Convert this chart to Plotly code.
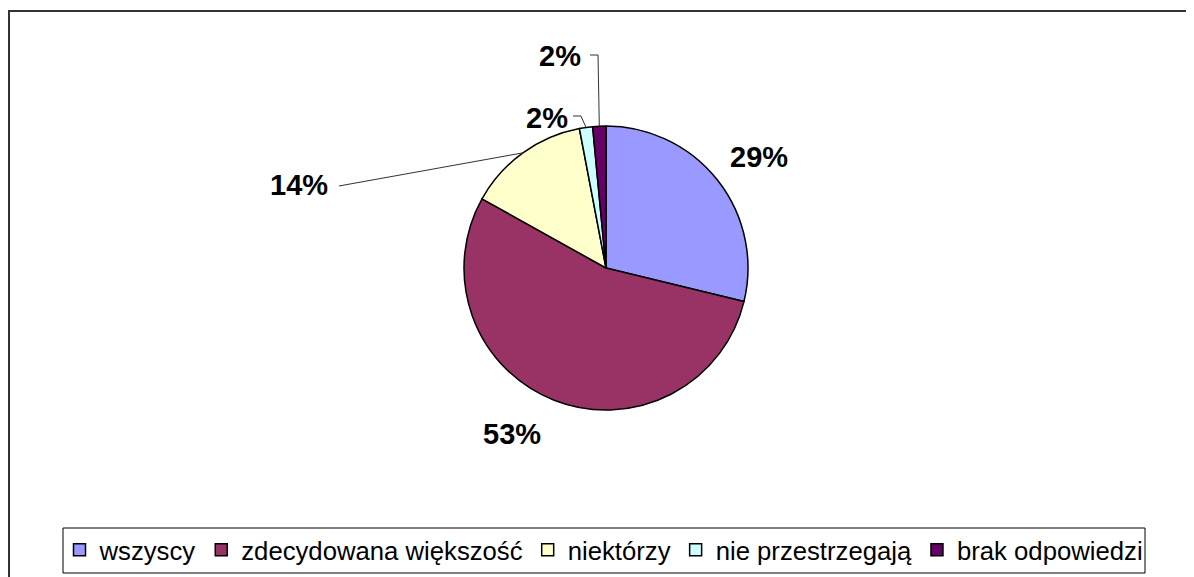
import math
import plotly.graph_objects as go

# ---- data ----
categories = ["wszyscy", "zdecydowana większość", "niektórzy", "nie przestrzegają", "brak odpowiedzi"]
values = [28.8, 54.3, 13.9, 1.5, 1.5]
shown_pct = ["29%", "53%", "14%", "2%", "2%"]
colors = ["#9999FF", "#993366", "#FFFFCC", "#CCFFFF", "#660066"]

W, H = 1194, 577
OFF = 8  # page body margin in the browser
CX, CY, R = 606, 268, 142  # pie centre / radius in screen px


def px(x):
    return (x - OFF) / W


def py(y):
    return 1 - (y - OFF) / H


def mid_point(i):
    tot = sum(values)
    start = sum(values[:i]) / tot
    frac = start + values[i] / tot / 2
    ang = 2 * math.pi * frac
    return CX + R * math.sin(ang), CY - R * math.cos(ang)


fig = go.Figure(go.Pie(
    labels=categories,
    values=values,
    sort=False,
    direction="clockwise",
    rotation=0,
    marker=dict(colors=colors, line=dict(color="#000000", width=1.5)),
    textinfo="none",
    hoverinfo="label+percent",
    domain=dict(x=[px(CX - R), px(CX + R)], y=[py(CY + R), py(CY - R)]),
))

# label placement (screen px, text centre) and leader elbows
label_pos = [(759, 157), (512, 434), (299, 185), (547, 118), (560, 56)]
leaders = {
    2: [(339, 186)],
    3: [(573, 116), (581, 116)],
    4: [(590, 55), (598, 55)],
}

annotations = []
for i, (x, y) in enumerate(label_pos):
    annotations.append(dict(
        x=px(x), y=py(y), xref="paper", yref="paper", text=shown_pct[i],
        showarrow=False,
        font=dict(family="Liberation Sans, Arial", size=29, color="#000000", weight="bold"),
        xanchor="center", yanchor="middle",
    ))

shapes = []
for i, pts in leaders.items():
    pts = pts + [mid_point(i)]
    path = "M " + " L ".join(f"{px(a):.5f},{py(b):.5f}" for a, b in pts)
    shapes.append(dict(type="path", path=path, xref="paper", yref="paper",
                       line=dict(color="#333333", width=1)))

# outer chart frame (right/bottom edges lie outside the visible page)
shapes.append(dict(type="rect", xref="paper", yref="paper",
                   x0=px(9), y0=py(640), x1=px(1240), y1=py(11),
                   line=dict(color="#333333", width=2), layer="below"))
# legend frame
shapes.append(dict(type="rect", xref="paper", yref="paper",
                   x0=px(63), y0=py(573), x1=px(1145), y1=py(528),
                   line=dict(color="#000000", width=1), layer="below"))

fig.update_layout(
    width=W, height=H,
    margin=dict(l=0, r=0, t=0, b=0),
    paper_bgcolor="#FFFFFF",
    plot_bgcolor="#FFFFFF",
    annotations=annotations,
    shapes=shapes,
    showlegend=True,
    legend=dict(
        orientation="h",
        x=px(604), xanchor="center",
        y=py(550), yanchor="middle",
        font=dict(family="Liberation Sans, Arial", size=25.7, color="#000000"),
        bgcolor="rgba(0,0,0,0)",
        borderwidth=0,
        itemclick=False,
    ),
)

fig.write_html("out.html")
